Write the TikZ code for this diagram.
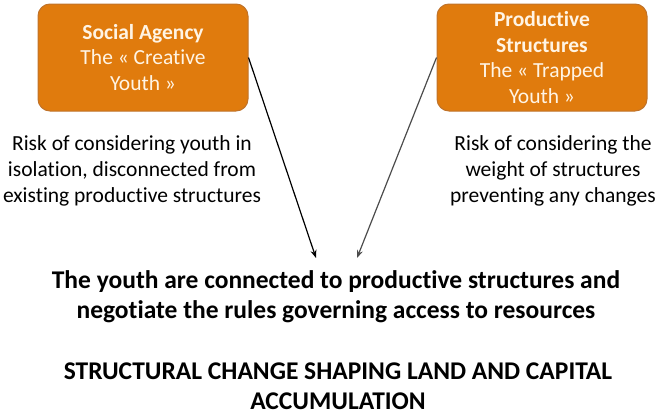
\documentclass[tikz,border=0pt]{standalone}
\usepackage{fontspec}
\setmainfont{Carlito}[Ligatures=NoCommon]
\usetikzlibrary{arrows.meta, positioning}

\definecolor{boxorange}{HTML}{E07B0D}
\definecolor{boxedge}{HTML}{C0732A}
\definecolor{boxtext}{HTML}{FFF4E4}

\begin{document}
\begin{tikzpicture}[
  x=1pt, y=-1pt,
  >={Stealth[length=8pt, width=6pt]},
  youthbox/.style={draw=boxedge, fill=boxorange, line width=1pt, rectangle, rounded corners=12pt, minimum height=107pt, minimum width=210pt, align=center, text=boxtext, font=\fontsize{21.5}{25.5}\selectfont, inner sep=0pt},
  risktext/.style={align=center, font=\fontsize{21.5}{26}\selectfont, inner sep=0pt},
  goaltext/.style={align=center, font=\fontsize{25.5}{30}\selectfont\bfseries, inner sep=0pt}
]
  \useasboundingbox (0,0) rectangle (659,415);

  % Fila 1: los dos enfoques
  \node[youthbox] (agency) at (143,57.5) {\textbf{Social Agency}\\The « Creative\\Youth »};
  \node[youthbox] (struct) at (542,57.5) {\textbf{Productive}\\\textbf{Structures}\\The « Trapped\\Youth »};

  % Riesgos debajo de cada caja
  \node[risktext] (riskA) at (132,171) {Risk of considering youth in\\isolation, disconnected from\\existing productive structures};
  \node[risktext] (riskB) at (553,171) {Risk of considering the\\weight of structures\\preventing any changes};

  % Resultado central
  \node[goaltext] (goal) at (336,297) {The youth are connected to productive structures and\\negotiate the rules governing access to resources};
  \node[goaltext] (change) at (338,386) {STRUCTURAL CHANGE SHAPING LAND AND CAPITAL\\ACCUMULATION};

  % Flechas hacia el resultado
  \coordinate (goalL) at (316,258);
  \coordinate (goalR) at (357,258);
  \draw[->, line width=1.2pt, black] (agency.east) -- (goalL);
  \draw[->, line width=1.2pt, black!70] (struct.west) -- (goalR);

\end{tikzpicture}
\end{document}
